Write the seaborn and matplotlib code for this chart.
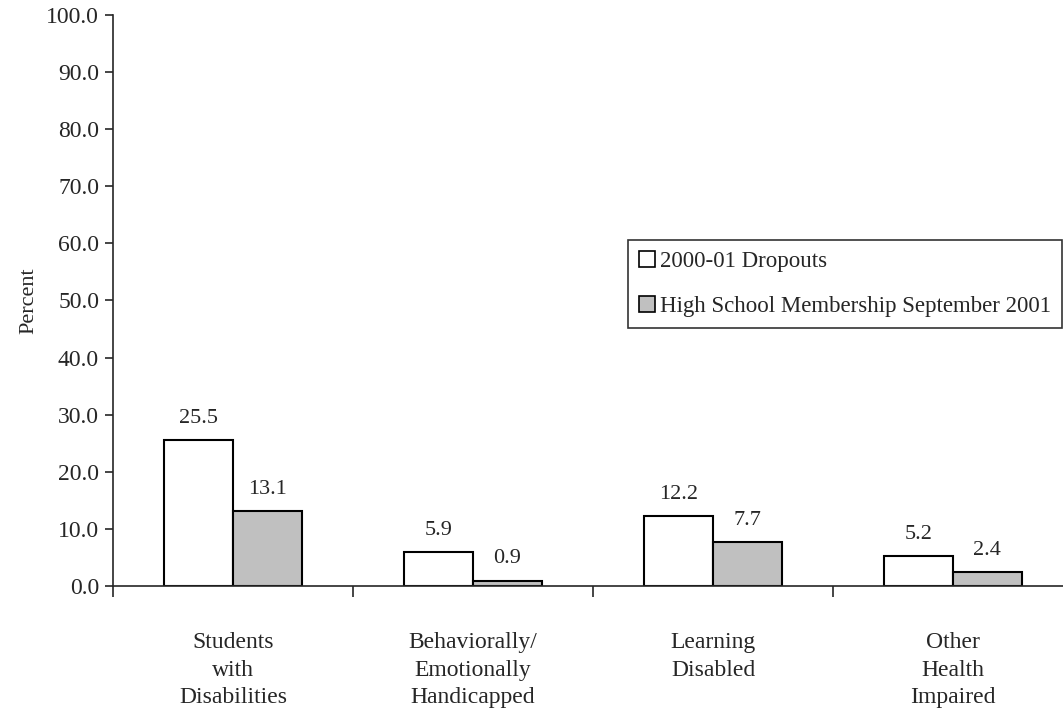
import pandas as pd
import seaborn as sns
import matplotlib
matplotlib.use("Agg")
import matplotlib.pyplot as plt
from matplotlib.patches import Patch

# data
categories = ["Students\nwith\nDisabilities", "Behaviorally/\nEmotionally\nHandicapped",
              "Learning\nDisabled", "Other\nHealth\nImpaired"]
series = ["2000-01 Dropouts", "High School Membership September 2001"]
dropouts = [25.5, 5.9, 12.2, 5.2]
membership = [13.1, 0.9, 7.7, 2.4]
colors = ["#ffffff", "#c0c0c0"]

df = pd.DataFrame({
    "Category": categories * 2,
    "Series": [series[0]] * 4 + [series[1]] * 4,
    "Percent": dropouts + membership,
})

sns.set_style("ticks")
plt.rcParams["font.family"] = ["Liberation Serif", "DejaVu Serif"]

fig = plt.figure(figsize=(10.63, 7.12), dpi=100)
ax = fig.add_axes([113 / 1063, 126 / 712, 960 / 1063, 571 / 712])

sns.barplot(data=df, x="Category", y="Percent", hue="Series", order=categories,
            hue_order=series, palette=colors, width=0.572, gap=0,
            edgecolor="black", linewidth=1.5, saturation=1, ax=ax, legend=False)

for cont in ax.containers:
    ax.bar_label(cont, fmt="%.1f", padding=9, fontsize=16)

ax.set_ylim(0, 100)
ax.set_yticks(range(0, 101, 10))
ax.set_yticklabels([f"{v:.1f}" for v in range(0, 101, 10)], fontsize=17)
ax.set_xlim(-0.5, 3.5)
ax.set_xticks([i for i in range(4)])
ax.set_xticklabels(categories, fontsize=17, linespacing=1.42)
ax.tick_params(axis="x", length=0, pad=33)
ax.tick_params(axis="y", length=6, width=1.2, direction="out", pad=4)
# category boundary ticks on the x axis
ax.set_xticks([-0.5, 0.5, 1.5, 2.5, 3.5], minor=True)
ax.tick_params(axis="x", which="minor", length=8, width=1.2, direction="out")
ax.set_xlabel("")
ax.set_ylabel("Percent", fontsize=16, labelpad=6)

for side in ["top", "right"]:
    ax.spines[side].set_visible(False)
ax.spines["left"].set_linewidth(1.2)
ax.spines["bottom"].set_linewidth(1.2)

handles = [Patch(facecolor=c, edgecolor="black", linewidth=1.2) for c in colors]
leg = ax.legend(handles, series, loc="upper left",
                bbox_to_anchor=(628 / 1063, 1 - 240 / 712), bbox_transform=fig.transFigure,
                fontsize=16.5, frameon=True, fancybox=False, edgecolor="black",
                handlelength=0.7, handleheight=0.7, handletextpad=0.2,
                labelspacing=1.05, borderpad=0.48, borderaxespad=0)
leg.get_frame().set_linewidth(1.2)

fig.savefig("out.png", dpi=100)
